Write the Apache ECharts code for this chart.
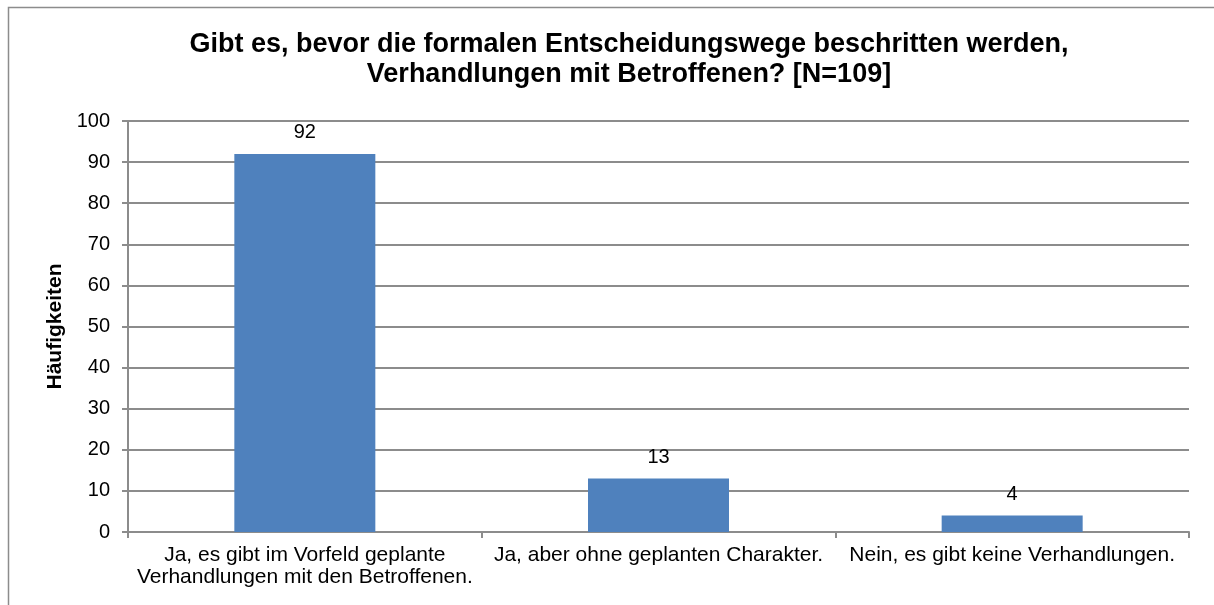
<!DOCTYPE html>
<html>
<head>
<meta charset="utf-8">
<script src="https://cdn.jsdelivr.net/npm/echarts@6/dist/echarts.min.js"></script>
<style>
  html, body { margin: 0; padding: 0; background: #fff; }
  #chart { width: 1214px; height: 605px; }
</style>
</head>
<body>
<div id="chart"></div>
<script>
// Kategorien und Werte aus der Umfrage
const categories = [
  'Ja, es gibt im Vorfeld geplante\nVerhandlungen mit den Betroffenen.',
  'Ja, aber ohne geplanten Charakter.',
  'Nein, es gibt keine Verhandlungen.'
];
const values = [92, 13, 4];
const titleText = 'Gibt es, bevor die formalen Entscheidungswege beschritten werden,\nVerhandlungen mit Betroffenen? [N=109]';
const yAxisName = 'Häufigkeiten';

const chart = echarts.init(document.getElementById('chart'));
const font = 'Liberation Sans, Arial, sans-serif';

let option = {
  animation: false,
  textStyle: { fontFamily: font },
  graphic: [
    {
      type: 'rect',
      shape: { x: 8.5, y: 7.5, width: 1220, height: 620 },
      style: { fill: 'none', stroke: '#8c8c8c', lineWidth: 1.5 },
      silent: true
    }
  ],
  title: {
    text: titleText,
    left: 624,
    top: 25,
    textAlign: 'center',
    textStyle: {
      fontFamily: font,
      fontSize: 27,
      fontWeight: 'bold',
      color: '#000',
      lineHeight: 30
    }
  },
  grid: {
    left: 128,
    right: 25,
    top: 121,
    bottom: 73,
    containLabel: false
  },
  xAxis: {
    type: 'category',
    data: categories,
    axisLine: { lineStyle: { color: '#8c8c8c', width: 2 } },
    axisTick: { show: true, length: 6, lineStyle: { color: '#8c8c8c', width: 2 } },
    axisLabel: {
      color: '#000',
      fontSize: 21,
      fontFamily: font,
      lineHeight: 22,
      margin: 12,
      interval: 0
    }
  },
  yAxis: {
    type: 'value',
    min: 0,
    max: 100,
    interval: 10,
    name: yAxisName,
    nameLocation: 'middle',
    nameGap: 56,
    nameRotate: 90,
    nameTextStyle: { color: '#000', fontSize: 21, fontWeight: 'bold', fontFamily: font },
    axisLine: { show: true, lineStyle: { color: '#8c8c8c', width: 2 } },
    axisTick: { show: true, length: 6, lineStyle: { color: '#8c8c8c', width: 2 } },
    axisLabel: { color: '#000', fontSize: 20, fontFamily: font, margin: 18 },
    splitLine: { lineStyle: { color: '#8c8c8c', width: 2 } }
  },
  series: [
    {
      type: 'bar',
      data: values,
      barWidth: 141,
      itemStyle: { color: '#4f81bd' },
      label: {
        show: true,
        position: 'top',
        distance: 11,
        color: '#000',
        fontSize: 20,
        fontFamily: font
      }
    }
  ]
};

chart.setOption(option);
</script>
</body>
</html>
